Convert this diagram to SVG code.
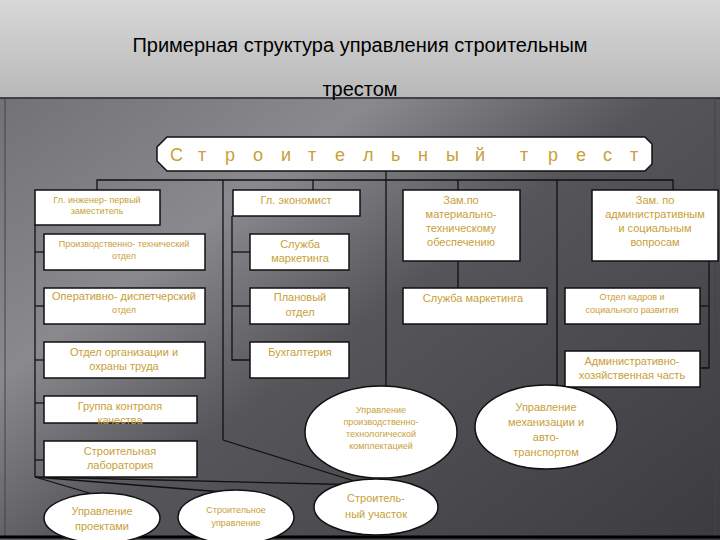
<svg xmlns="http://www.w3.org/2000/svg" width="720" height="540" viewBox="0 0 720 540">
<defs>
<linearGradient id="bg" x1="0" y1="0" x2="1" y2="1">
<stop offset="0" stop-color="#6a6a6e"/><stop offset="0.35" stop-color="#8a8a8e"/><stop offset="0.55" stop-color="#55555a"/><stop offset="1" stop-color="#3c3c40"/>
</linearGradient>
<linearGradient id="tg" x1="0" y1="0" x2="0" y2="1">
<stop offset="0" stop-color="#d8d8d8"/><stop offset="1" stop-color="#b8b8b8"/>
</linearGradient>
<style>
.b{fill:#fff;stroke:#111;stroke-width:1.5}
.t{font-family:"Liberation Sans",Arial,sans-serif;fill:#c8a038;text-anchor:middle;font-size:11px}
.s{font-size:9px}
.l{stroke:#111;stroke-width:1.3;fill:none}
</style>
</defs>
<rect width="720" height="540" fill="url(#bg)"/>
<rect width="720" height="98" fill="url(#tg)"/>
<line x1="0" y1="98" x2="720" y2="98" stroke="#222" stroke-width="1.5"/>
<rect x="5" y="98" width="710" height="439" fill="none" stroke="#444" stroke-width="1"/>
<line x1="0" y1="537" x2="720" y2="537" stroke="#000" stroke-width="3"/>
<text x="360" y="52" font-family="Liberation Sans,Arial,sans-serif" font-size="20" text-anchor="middle" fill="#000">Примерная структура управления строительным</text>
<text x="360" y="96" font-family="Liberation Sans,Arial,sans-serif" font-size="20" text-anchor="middle" fill="#000">трестом</text>
<g id="connectors" class="l">
<polyline points="97,190 97,180 673,180 673,190"/>
<line x1="313" y1="180" x2="313" y2="190"/>
<line x1="458" y1="180" x2="458" y2="190"/>
<line x1="223" y1="180" x2="223" y2="440"/>
<polyline points="223,440 367,485"/>
<line x1="386" y1="171" x2="386" y2="386"/>
<line x1="557" y1="180" x2="557" y2="386"/>
<polyline points="35,225 35,477"/>
<line x1="35" y1="252" x2="44" y2="252"/><line x1="35" y1="306" x2="44" y2="306"/><line x1="35" y1="360" x2="44" y2="360"/>
<line x1="35" y1="403" x2="44" y2="403"/><line x1="35" y1="460" x2="44" y2="460"/>
<line x1="35" y1="477" x2="96" y2="495"/><line x1="35" y1="477" x2="248" y2="494"/><line x1="35" y1="477" x2="367" y2="485"/>
<polyline points="232,216 232,360 250,360"/>
<line x1="232" y1="252" x2="250" y2="252"/><line x1="232" y1="306" x2="250" y2="306"/>
<line x1="458" y1="261" x2="458" y2="288"/>
<polyline points="709,261 709,368 700,368"/>
<line x1="700" y1="306" x2="709" y2="306"/>
</g>
<g id="banner"><path d="M167,137 H645 L652,144 V164 L645,171 H167 L157,161 V147 Z" class="b"/>
<text x="170 198 225 253 281 308 335 363 391 418 446 475 520 548 576 603 630" y="161" class="t" style="font-size:18px;text-anchor:start">Строительныйтрест</text></g>
<g id="n1"><rect x="35" y="190" width="125" height="35" class="b"/><text class="t s" x="97" y="203">Гл. инженер- первый</text><text class="t s" x="97" y="214">заместитель</text></g>
<g id="n2"><rect x="44" y="234" width="161" height="36" class="b"/><text class="t s" x="124" y="247">Производственно- технический</text><text class="t s" x="124" y="259">отдел</text></g>
<g id="n3"><rect x="44" y="288" width="161" height="36" class="b"/><text class="t" x="124" y="300">Оперативно- диспетчерский</text><text class="t s" x="124" y="313">отдел</text></g>
<g id="n4"><rect x="44" y="342" width="161" height="36" class="b"/><text class="t" x="124" y="356">Отдел организации и</text><text class="t" x="124" y="370">охраны труда</text></g>
<g id="n5"><rect x="233" y="190" width="127" height="26" class="b"/><text class="t" x="296" y="204">Гл. экономист</text></g>
<g id="n6"><rect x="250" y="234" width="99" height="36" class="b"/><text class="t" x="300" y="248">Служба</text><text class="t" x="300" y="262">маркетинга</text></g>
<g id="n7"><rect x="250" y="288" width="99" height="36" class="b"/><text class="t" x="300" y="301">Плановый</text><text class="t" x="300" y="316">отдел</text></g>
<g id="n8"><rect x="250" y="342" width="99" height="36" class="b"/><text class="t" x="300" y="356">Бухгалтерия</text></g>
<g id="n9"><rect x="403" y="190" width="117" height="71" class="b"/><text class="t" x="461" y="204">Зам.по</text><text class="t" x="461" y="218">материально-</text><text class="t" x="461" y="232">техническому</text><text class="t" x="461" y="246">обеспечению</text></g>
<g id="n10"><rect x="403" y="288" width="144" height="36" class="b"/><text class="t" x="473" y="302">Служба маркетинга</text></g>
<g id="n11"><rect x="592" y="190" width="126" height="71" class="b"/><text class="t" x="655" y="204">Зам. по</text><text class="t" x="655" y="218">административным</text><text class="t" x="655" y="232">и социальным</text><text class="t" x="655" y="246">вопросам</text></g>
<g id="n12"><rect x="565" y="288" width="135" height="36" class="b"/><text class="t s" x="632" y="300">Отдел кадров и</text><text class="t s" x="632" y="313">социального развития</text></g>
<g id="n13"><rect x="565" y="351" width="135" height="36" class="b"/><text class="t" x="632" y="365">Административно-</text><text class="t" x="632" y="379">хозяйственная часть</text></g>
<g id="n14"><rect x="44" y="396" width="153" height="27" class="b"/><text class="t" x="120" y="410" fill="#b0a890">Группа контроля</text><text class="t" x="120" y="424">качества</text></g>
<g id="n15"><rect x="44" y="441" width="153" height="36" class="b"/><text class="t" x="120" y="455">Строительная</text><text class="t" x="120" y="469">лаборатория</text></g>
<g id="n16"><ellipse cx="381" cy="432" rx="76" ry="46" class="b"/><text class="t s" x="381" y="413">Управление</text><text class="t s" x="381" y="425">производственно-</text><text class="t s" x="381" y="437">технологической</text><text class="t s" x="381" y="449">комплектацией</text></g>
<g id="n17"><ellipse cx="546" cy="427" rx="71" ry="42" class="b"/><text class="t" x="546" y="411">Управление</text><text class="t" x="546" y="426">механизации и</text><text class="t" x="546" y="441">авто-</text><text class="t" x="546" y="456">транспортом</text></g>
<g id="n18"><ellipse cx="102" cy="518" rx="58" ry="25" class="b"/><text class="t" x="102" y="515">Управление</text><text class="t" x="102" y="530">проектами</text></g>
<g id="n19"><ellipse cx="236" cy="517" rx="58" ry="27" class="b"/><text class="t s" x="236" y="513">Строительное</text><text class="t s" x="236" y="526">управление</text></g>
<g id="n20"><ellipse cx="376" cy="507" rx="62" ry="28" class="b"/><text class="t" x="376" y="502">Строитель-</text><text class="t" x="376" y="518">ный участок</text></g>
</svg>
